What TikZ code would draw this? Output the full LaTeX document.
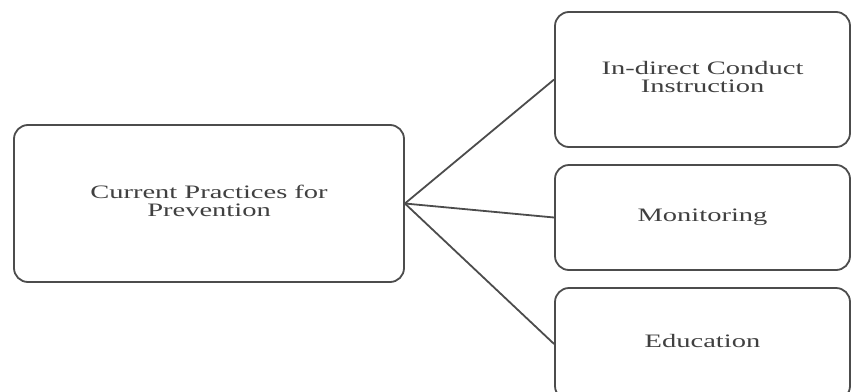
\documentclass[tikz,border=0pt]{standalone}
\usepackage{fontspec}
\usepackage{graphicx}
\setmainfont{Liberation Serif}
\newcommand{\widetxt}[1]{\scalebox{1.5}[1]{\begin{tabular}{@{}c@{}}#1\end{tabular}}}
\begin{document}
\begin{tikzpicture}[x=1pt,y=-1pt,
  box/.style={draw=black!70, line width=1.8pt, rounded corners=14pt, fill=white,
    align=center, font=\fontsize{19}{18}\selectfont, text=black!75, inner sep=0pt},
  link/.style={draw=black!70, line width=1.8pt}]
\useasboundingbox (0,0) rectangle (851,391);
\node[box, minimum width=390pt, minimum height=157pt] (L) at (209,203.5) {\widetxt{Current Practices for\\Prevention}};
\node[box, minimum width=295pt, minimum height=135pt] (A) at (702.5,79.5) {\widetxt{In-direct Conduct\\Instruction}};
\node[box, minimum width=295pt, minimum height=105pt] (B) at (702.5,217.5) {\widetxt{Monitoring}};
\node[box, minimum width=295pt, minimum height=112pt] (C) at (702.5,344) {\widetxt{Education}};
\draw[link] (L.east) -- (A.west);
\draw[link] (L.east) -- (B.west);
\draw[link] (L.east) -- (C.west);
\end{tikzpicture}
\end{document}
